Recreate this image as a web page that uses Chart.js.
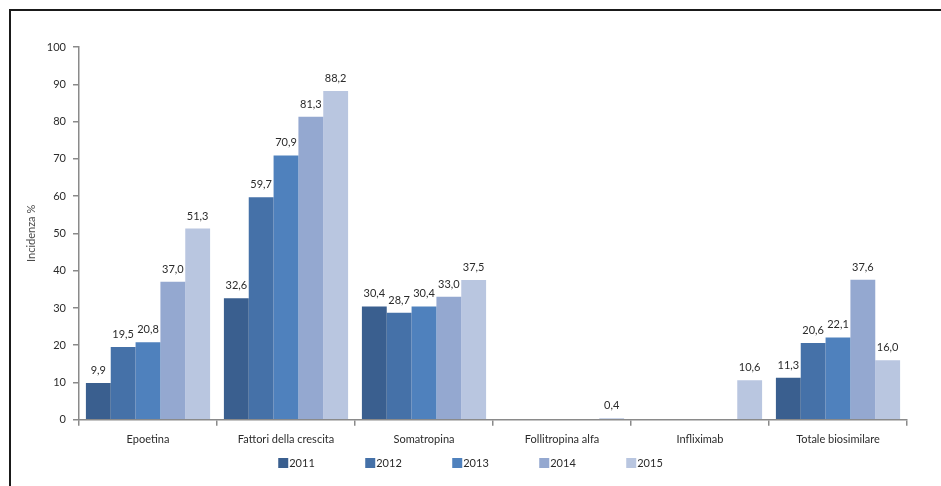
<!DOCTYPE html>
<html>
<head>
<meta charset="utf-8">
<script src="https://cdn.jsdelivr.net/npm/chart.js@4/dist/chart.umd.min.js"></script>
<style>
  html, body { margin: 0; padding: 0; background: #ffffff; }
  canvas { display: block; }
</style>
</head>
<body>
<canvas id="chart" width="941" height="486"></canvas>
<script>
// Categories, years and values per year
const categories = ['Epoetina', 'Fattori della crescita', 'Somatropina', 'Follitropina alfa', 'Infliximab', 'Totale biosimilare'];
const years = ['2011', '2012', '2013', '2014', '2015'];
const values2011 = [9.9, 32.6, 30.4, null, null, 11.3];
const values2012 = [19.5, 59.7, 28.7, null, null, 20.6];
const values2013 = [20.8, 70.9, 30.4, null, null, 22.1];
const values2014 = [37.0, 81.3, 33.0, null, null, 37.6];
const values2015 = [51.3, 88.2, 37.5, 0.4, 10.6, 16.0];
const yTicks = [0, 10, 20, 30, 40, 50, 60, 70, 80, 90, 100];

const seriesValues = [values2011, values2012, values2013, values2014, values2015];
const seriesColors = ['#3A5F8F', '#4571A8', '#4F81BD', '#94A8D0', '#B9C6E0'];

const FONT = 'Lato, "Open Sans", "Liberation Sans", sans-serif';
const TEXT = '#2b2b2b';
const AXIS = '#8a8a8a';

Chart.defaults.font.family = FONT;
Chart.defaults.font.size = 11;
Chart.defaults.color = TEXT;

const fmt = v => v.toFixed(1).replace('.', ',');

// Frame along the left and top edge
const framePlugin = {
  id: 'frame',
  beforeDraw(chart) {
    const ctx = chart.ctx;
    ctx.save();
    ctx.strokeStyle = '#1a1a1a';
    ctx.lineWidth = 2;
    ctx.beginPath();
    ctx.moveTo(10, chart.height);
    ctx.lineTo(10, 10);
    ctx.lineTo(chart.width, 10);
    ctx.stroke();
    ctx.restore();
  }
};

// Value labels above each bar
const valueLabels = {
  id: 'valueLabels',
  afterDatasetsDraw(chart) {
    const ctx = chart.ctx;
    ctx.save();
    ctx.font = '11px ' + FONT;
    ctx.fillStyle = TEXT;
    ctx.textAlign = 'center';
    ctx.textBaseline = 'alphabetic';
    chart.data.datasets.forEach((ds, di) => {
      const meta = chart.getDatasetMeta(di);
      meta.data.forEach((bar, i) => {
        const v = ds.data[i];
        if (v === null || v === undefined) return;
        ctx.fillText(fmt(v), bar.x, bar.y - 9);
      });
    });
    ctx.restore();
  }
};

// Legend row under the axis labels
const legendRow = {
  id: 'legendRow',
  afterDraw(chart) {
    const ctx = chart.ctx;
    ctx.save();
    ctx.font = '11px ' + FONT;
    ctx.textBaseline = 'middle';
    ctx.textAlign = 'left';
    const box = 10, gap = 1, step = 87, cy = 463;
    const lastW = box + gap + ctx.measureText(chart.data.datasets[chart.data.datasets.length - 1].label).width;
    const total = step * (chart.data.datasets.length - 1) + lastW;
    let x = chart.width / 2 - total / 2;
    chart.data.datasets.forEach(ds => {
      ctx.fillStyle = ds.backgroundColor;
      ctx.fillRect(x, cy - box / 2, box, box);
      ctx.fillStyle = TEXT;
      ctx.fillText(ds.label, x + box + gap, cy + 0.5);
      x += step;
    });
    ctx.restore();
  }
};

new Chart(document.getElementById('chart'), {
  type: 'bar',
  data: {
    labels: categories,
    datasets: years.map((y, i) => ({
      label: y,
      data: seriesValues[i],
      backgroundColor: seriesColors[i],
      borderWidth: 0,
      categoryPercentage: 0.9,
      barPercentage: 1.0
    }))
  },
  options: {
    responsive: false,
    animation: false,
    layout: { padding: { left: 21, right: 34, top: 47, bottom: 33 } },
    plugins: {
      legend: { display: false },
      tooltip: { enabled: false }
    },
    scales: {
      x: {
        grid: {
          offset: true,
          drawOnChartArea: false,
          drawTicks: true,
          tickLength: 6,
          color: AXIS,
          lineWidth: 1.5
        },
        border: { display: true, color: AXIS, width: 1.5 },
        ticks: { padding: 7, color: TEXT, font: { size: 11 }, maxRotation: 0, autoSkip: false }
      },
      y: {
        min: yTicks[0],
        max: yTicks[yTicks.length - 1],
        afterBuildTicks(scale) { scale.ticks = yTicks.map(v => ({ value: v })); },
        afterFit(scale) { scale.width = 58; },
        grid: {
          drawOnChartArea: false,
          drawTicks: true,
          tickLength: 6,
          color: AXIS,
          lineWidth: 1.5
        },
        border: { display: true, color: AXIS, width: 1.5 },
        ticks: { padding: 7, color: TEXT, font: { size: 11 } },
        title: {
          display: true,
          text: 'Incidenza %',
          color: '#4a4a4a',
          font: { size: 11 },
          padding: { top: 4, bottom: 4 }
        }
      }
    }
  },
  plugins: [framePlugin, valueLabels, legendRow]
});
</script>
</body>
</html>
